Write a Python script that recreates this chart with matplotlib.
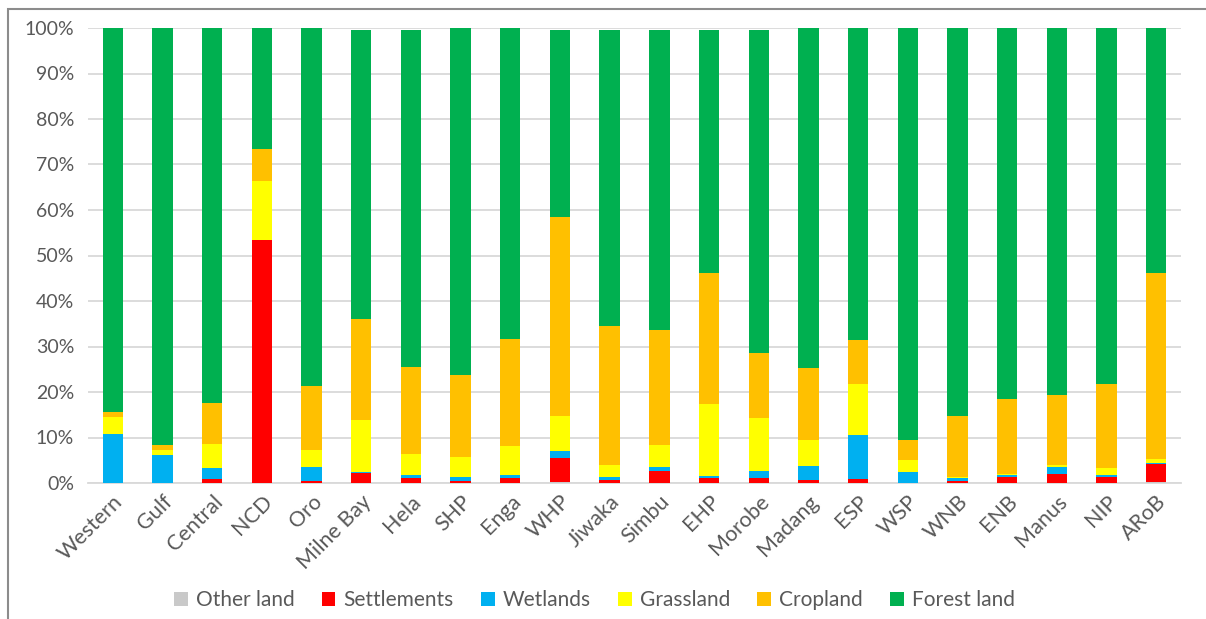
import matplotlib.pyplot as plt
import numpy as np
from matplotlib.patches import Rectangle

regions = ['Western', 'Gulf', 'Central', 'NCD', 'Oro', 'Milne Bay', 'Hela', 'SHP',
           'Enga', 'WHP', 'Jiwaka', 'Simbu', 'EHP', 'Morobe', 'Madang', 'ESP',
           'WSP', 'WNB', 'ENB', 'Manus', 'NIP', 'ARoB']

# shares in percent
other_land = [0, 0, 0, 0, 0, 0, 0, 0, 0, 0.3, 0, 0, 0, 0, 0, 0, 0, 0, 0, 0, 0, 0.3]
settlements = [0, 0, 0.9, 53.3, 0.4, 2.2, 1.2, 0.4, 1.2, 5.2, 0.7, 2.6, 1.2, 1.2, 0.7, 0.9,
               0, 0.4, 1.3, 2.0, 1.3, 3.9]
wetlands = [10.8, 6.2, 2.4, 0, 3.1, 0.2, 0.6, 0.9, 0.6, 1.5, 0.6, 0.9, 0.3, 1.4, 3.0, 9.6,
            2.4, 0.7, 0.5, 1.5, 0.5, 0.2]
grassland = [3.7, 1.1, 5.3, 13.1, 3.8, 11.5, 4.6, 4.4, 6.3, 7.7, 2.7, 4.9, 15.9, 11.7, 5.8,
             11.3, 2.7, 0.2, 0.2, 0.5, 1.5, 0.9]
cropland = [1.0, 1.1, 9.0, 6.9, 14.0, 22.1, 19.0, 18.1, 23.6, 43.8, 30.6, 25.2, 28.8, 14.2,
            15.7, 9.6, 4.4, 13.4, 16.5, 15.3, 18.5, 40.9]
forest_land = [84.5, 91.6, 82.4, 26.7, 78.7, 63.6, 74.2, 76.2, 68.3, 41.1, 65.0, 66.0, 53.4,
               71.1, 74.8, 68.6, 90.5, 85.3, 81.5, 80.7, 78.2, 53.8]

series = [
    ('Other land', other_land, '#C9C9C9'),
    ('Settlements', settlements, '#FF0000'),
    ('Wetlands', wetlands, '#00B0F0'),
    ('Grassland', grassland, '#FFFF00'),
    ('Cropland', cropland, '#FFC000'),
    ('Forest land', forest_land, '#00B050'),
]

plt.rcParams['font.family'] = ['Lato', 'DejaVu Sans']
text_grey = '#595959'

fig = plt.figure(figsize=(12.06, 6.19), dpi=100)
ax = fig.add_axes([88 / 1206, 1 - 483 / 619, (1181 - 88) / 1206, (483 - 28) / 619])

x = np.arange(len(regions))
bottom = np.zeros(len(regions))
for name, vals, color in series:
    vals = np.array(vals) / 100
    ax.bar(x, vals, 0.41, bottom=bottom, color=color, label=name, zorder=2)
    bottom += vals

ax.set_xlim(-0.5, len(regions) - 0.5)
ax.set_ylim(0, 1)
ax.set_yticks(np.arange(0, 1.01, 0.1))
ax.set_yticklabels([f'{int(round(v * 100))}%' for v in np.arange(0, 1.01, 0.1)])
ax.yaxis.grid(True, color='#D9D9D9', lw=1.3, zorder=0)
ax.set_axisbelow(True)
for s in ['top', 'right', 'left']:
    ax.spines[s].set_visible(False)
ax.spines['bottom'].set_color('#D9D9D9')
ax.spines['bottom'].set_linewidth(1.3)
ax.spines['bottom'].set_zorder(1)

ax.set_xticks(x)
ax.set_xticklabels(regions, rotation=45, ha='right', rotation_mode='anchor')
ax.tick_params(axis='both', length=0, labelcolor=text_grey)
ax.tick_params(axis='y', pad=10, labelsize=14)
ax.tick_params(axis='x', pad=6, labelsize=15.5)

fig.legend(loc='center', bbox_to_anchor=(0.493, 1 - 600 / 619), ncol=6, frameon=False,
           fontsize=15, labelcolor=text_grey, handlelength=0.65, handleheight=0.65,
           handletextpad=0.4, columnspacing=1.3)

fig.patches.append(Rectangle((8 / 1206, -0.1), 1.2, 1.1 - 9 / 619, transform=fig.transFigure,
                             fill=False, edgecolor='#8C8C8C', lw=1.5))

fig.savefig('out.png', dpi=100)
